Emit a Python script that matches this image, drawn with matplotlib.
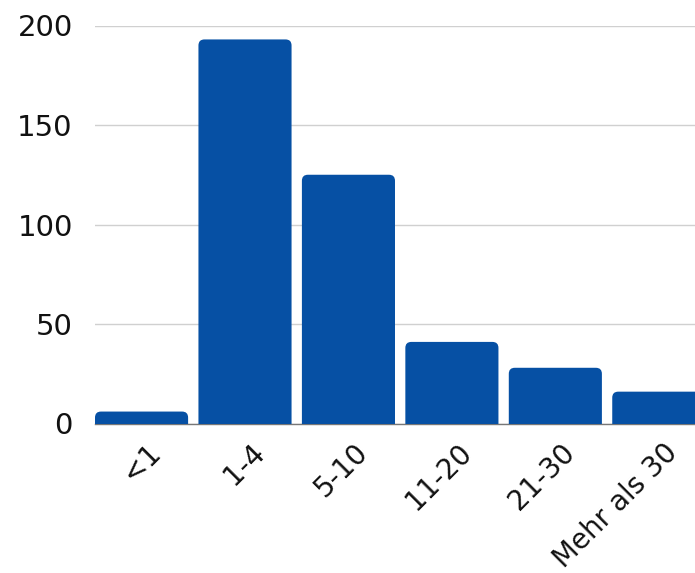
import matplotlib.pyplot as plt
import matplotlib.transforms as mtransforms
from matplotlib.patches import FancyBboxPatch

# Dauer-Kategorien und Anzahl
kategorien = ['<1', '1-4', '5-10', '11-20', '21-30', 'Mehr als 30']
anzahl = [6, 193, 125, 41, 28, 16]
y_ticks = [0, 50, 100, 150, 200]

blau = '#0650a4'

plt.rcParams['font.family'] = ['DejaVu Sans']

fig = plt.figure(figsize=(6.95, 5.73), dpi=100)
ax = fig.add_axes([95 / 695, 149.5 / 573, 600 / 695, 398 / 573])

x = range(len(kategorien))
bars = ax.bar(x, anzahl, width=0.9, color=blau)

ax.set_xlim(-0.45, 5.35)
ax.set_ylim(0, 200)

# runde Ecken oben: Balken durch abgerundete Patches ersetzen,
# die unteren Ecken liegen unter der Achse und werden abgeschnitten
px_x = 5.8 / 600    # x-Einheiten pro Pixel
px_y = 200 / 398    # y-Einheiten pro Pixel
r = 6 * px_x
unten = 8 * px_y
for b in bars:
    x0, w, h = b.get_x(), b.get_width(), b.get_height()
    b.set_visible(False)
    rund = FancyBboxPatch((x0, -unten), w, h + unten,
                          boxstyle='round,pad=0,rounding_size=%f' % r,
                          mutation_aspect=px_y / px_x,
                          facecolor=blau, edgecolor='none', zorder=2)
    ax.add_patch(rund)

ax.set_yticks(y_ticks)
ax.yaxis.grid(True, color='#d0d0d0', linewidth=1)
ax.set_axisbelow(True)
for s in ['left', 'right', 'top']:
    ax.spines[s].set_visible(False)
ax.spines['bottom'].set_color('#777777')
ax.spines['bottom'].set_linewidth(1)
ax.spines['bottom'].set_zorder(1)

ax.tick_params(axis='y', length=0, pad=16, labelsize=21, labelcolor='#111111')
ax.tick_params(axis='x', length=0, pad=12, labelsize=20, labelcolor='#111111')

ax.set_xticks(list(x))
ax.set_xticklabels(kategorien, rotation=45, ha='right', va='center',
                   rotation_mode='anchor')
verschub = mtransforms.ScaledTranslation(15 / 100, -8 / 100, fig.dpi_scale_trans)
for lab in ax.get_xticklabels():
    lab.set_transform(lab.get_transform() + verschub)

fig.savefig('out.png', dpi=100)
